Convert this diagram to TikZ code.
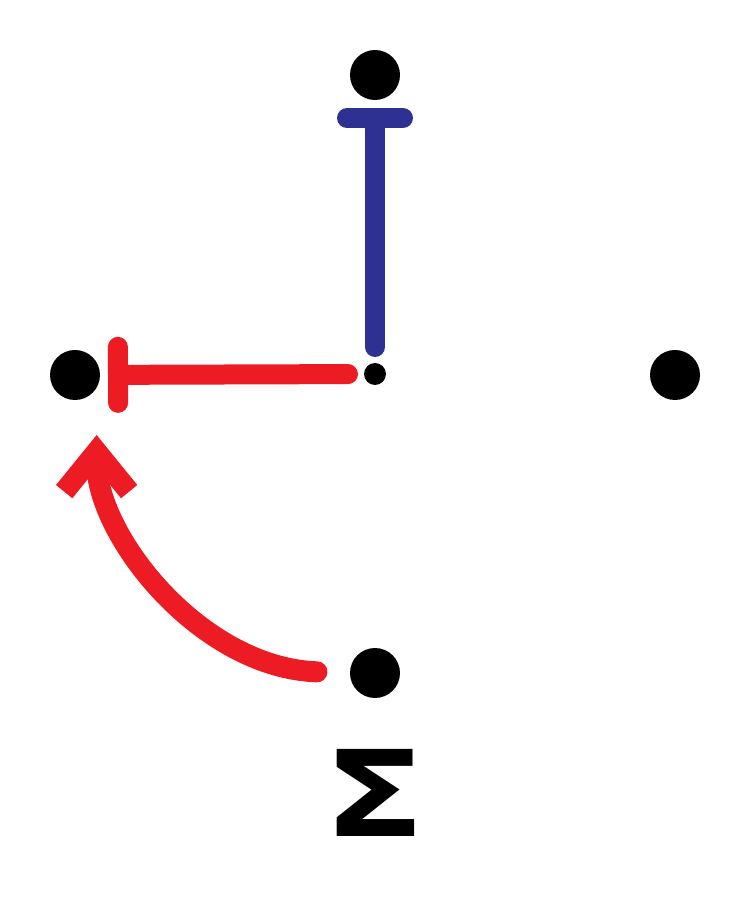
\documentclass[tikz,border=0pt]{standalone}
\usepackage{fontspec}
\usepackage{tikz}
\usetikzlibrary{arrows.meta,calc,positioning}
\definecolor{inhred}{RGB}{237,28,36}
\definecolor{inhblue}{RGB}{46,49,146}

\begin{document}
\begin{tikzpicture}[
  dot/.style={circle,fill=black,minimum size=5mm,inner sep=0pt,outer sep=0pt},
  hub/.style={circle,fill=black,minimum size=2.2mm,inner sep=0pt,outer sep=0pt},
  inhibit/.style={line width=2mm,line cap=round,
                  -{Bar[width=5.6mm,round]}},
  activate/.style={line width=2.1mm,line cap=round,
                   -{Straight Barb[length=4mm,width=6.5mm]}}
]
\useasboundingbox (0,0) rectangle (7.5,9);

\node[dot] (top)    at (3.75,8.25) {};
\node[dot] (left)   at (0.75,5.25) {};
\node[dot] (right)  at (6.75,5.25) {};
\node[dot] (bottom) at (3.75,2.27) {};
\node[hub] (mid)    at (3.75,5.26) {};

\draw[inhibit,inhblue,shorten <=1.6mm,shorten >=0.8mm] (mid) -- (top);
\draw[inhibit,inhred,shorten <=1.6mm,shorten >=0.8mm] (mid) -- (left);
\draw[activate,inhred,shorten <=3.3mm,shorten >=4.75mm]
  (bottom.west) to[out=178,in=-90] (left.-30);

\node[font=\fontspec{DejaVu Sans}\bfseries\fontsize{34}{34}\selectfont,
      xscale=1.25] (sigma) at (3.75,1.07) {Σ};
\end{tikzpicture}
\end{document}
